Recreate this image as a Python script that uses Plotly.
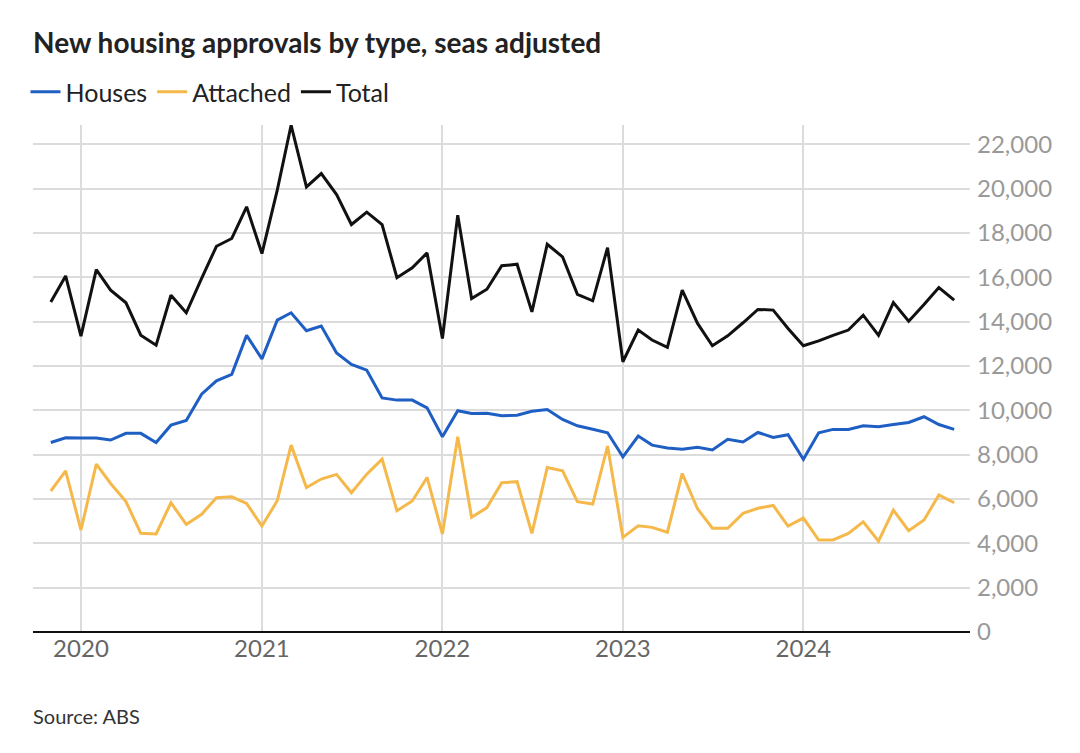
import pandas as pd
import plotly.graph_objects as go

months = pd.date_range("2019-11-01", "2024-11-01", freq="MS").strftime("%Y-%m-%d").tolist()

houses = [8550, 8760,
          8750, 8750, 8660, 8960, 8960, 8550, 9330, 9540, 10730, 11330, 11620, 13380,
          12320, 14070, 14400, 13590, 13800, 12590, 12070, 11810, 10560, 10460, 10460, 10110,
          8810, 9980, 9860, 9870, 9750, 9780, 9960, 10040, 9590, 9300, 9150, 8990,
          7900, 8840, 8430, 8300, 8240, 8330, 8210, 8690, 8570, 9000, 8780, 8900,
          7790, 8990, 9140, 9140, 9300, 9260, 9360, 9450, 9710, 9360, 9140]

attached = [6360, 7270,
            4600, 7570, 6700, 5880, 4450, 4420, 5830, 4850, 5310, 6060, 6100, 5800,
            4780, 5920, 8430, 6520, 6900, 7110, 6280, 7120, 7800, 5470, 5910, 6970,
            4420, 8810, 5170, 5610, 6730, 6780, 4450, 7420, 7270, 5880, 5770, 8390,
            4270, 4790, 4720, 4500, 7150, 5560, 4680, 4680, 5350, 5580, 5710, 4780,
            5140, 4150, 4150, 4450, 4970, 4100, 5500, 4570, 5050, 6180, 5830]

total = [14890, 16060,
         13350, 16350, 15420, 14850, 13390, 12940, 15190, 14400, 15950, 17400, 17750, 19180,
         17070, 19930, 22860, 20080, 20680, 19730, 18380, 18940, 18380, 15980, 16430, 17100,
         13240, 18800, 15040, 15460, 16520, 16590, 14440, 17490, 16920, 15230, 14940, 17340,
         12190, 13620, 13170, 12840, 15420, 13920, 12910, 13360, 13950, 14550, 14520, 13690,
         12910, 13130, 13380, 13620, 14290, 13380, 14860, 14020, 14770, 15540, 14970]

series_names = ["Houses", "Attached", "Total"]
series_colors = ["#1f5fc4", "#f5b94b", "#111111"]
y_ticks = list(range(0, 22001, 2000))

FONT = "Lato"
PLOT_TOP, PLOT_BOTTOM = 125, 632


def paper_y(py):
    return (PLOT_BOTTOM - py) / (PLOT_BOTTOM - PLOT_TOP)


fig = go.Figure()
for name, vals, col in zip(series_names, [houses, attached, total], series_colors):
    fig.add_trace(go.Scatter(x=months, y=vals, mode="lines", name=name,
                             line=dict(color=col, width=3)))

fig.update_layout(
    width=1080, height=753,
    margin=dict(l=33, r=110, t=PLOT_TOP, b=753 - PLOT_BOTTOM, autoexpand=False),
    paper_bgcolor="white", plot_bgcolor="white",
    font=dict(family=FONT, color="#333"),
    showlegend=True,
    legend=dict(orientation="h", x=-0.008, xanchor="left",
                y=1 - 92 / 753, yanchor="middle", yref="container",
                font=dict(family=FONT, size=25, color="#222"),
                itemwidth=30, traceorder="normal"),
    xaxis=dict(type="date", range=["2019-09-26", "2024-12-03"],
               tick0="2020-01-01", dtick="M12", tickformat="%Y",
               showgrid=True, gridcolor="#dcdcdc", gridwidth=1.5,
               ticks="", showline=False, zeroline=False,
               tickfont=dict(family=FONT, size=24, color="#666")),
    yaxis=dict(range=[0, 22870], side="right", tickvals=y_ticks,
               tickformat=",d", showgrid=True, gridcolor="#dcdcdc", gridwidth=1.5,
               zeroline=True, zerolinecolor="#111", zerolinewidth=2,
               ticks="", showline=False, ticklabelstandoff=6,
               tickfont=dict(family=FONT, size=24, color="#999")),
)

fig.add_annotation(text="<b>New housing approvals by type, seas adjusted</b>",
                   xref="paper", yref="paper", x=0, y=paper_y(42),
                   xanchor="left", yanchor="middle", xshift=-2,
                   showarrow=False, font=dict(family=FONT, size=28, color="#222"))
fig.add_annotation(text="Source: ABS", xref="paper", yref="paper",
                   x=0, y=paper_y(716), xanchor="left", yanchor="middle", xshift=-2,
                   showarrow=False, font=dict(family=FONT, size=20, color="#333"))

fig.write_html("out.html", config={"displayModeBar": False},
               post_script="document.body.style.margin='0px';")
